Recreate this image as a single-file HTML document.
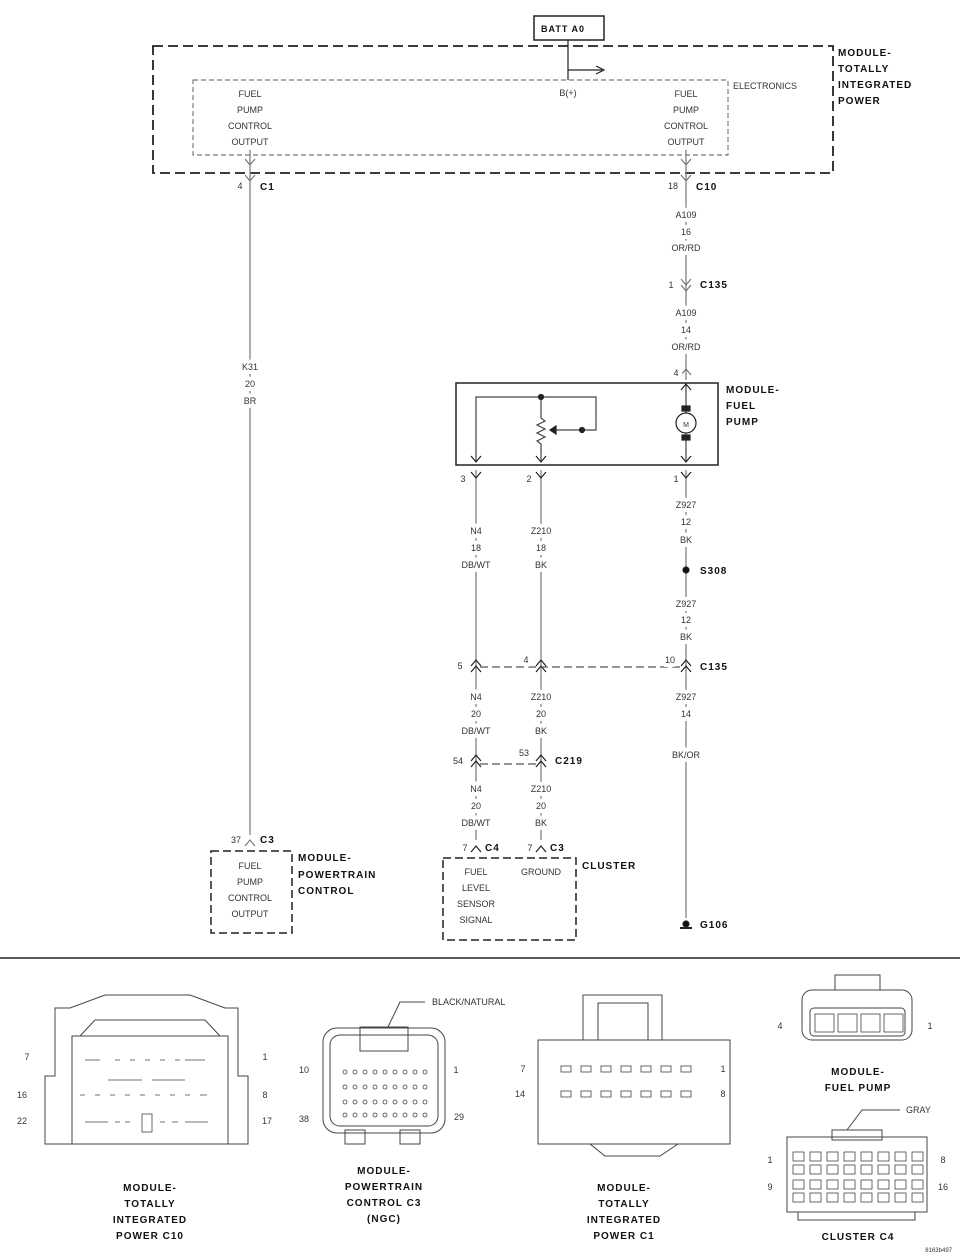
<!DOCTYPE html>
<html><head><meta charset="utf-8"><style>
body{margin:0;background:#fff}
svg{display:block}
text{font-family:"Liberation Sans",sans-serif;font-size:9px;fill:#333}
.b{font-weight:bold;font-size:10px;fill:#111;letter-spacing:1px}
.m{text-anchor:middle;paint-order:stroke;stroke:#fff;stroke-width:8px;stroke-linejoin:round}
</style></head><body>
<svg width="960" height="1257" viewBox="0 0 960 1257" xmlns="http://www.w3.org/2000/svg">
<g stroke="#222" fill="none" stroke-width="1.2">
<rect x="534" y="16" width="70" height="24" stroke-width="1.5"/>
<rect x="153" y="46" width="680" height="127" stroke-dasharray="10,5" stroke-width="1.8"/>
<rect x="193" y="80" width="535" height="75" stroke-dasharray="5,3" stroke="#555" stroke-width="0.9"/>
<path d="M568 40 V80 M568 70 H602 M596 66 L604 70 L596 74"/>
<path d="M250 150 V835 M245 159 L250 165 L255 159 M245 175 L250 181 L255 175 M245 846 L250 840 L255 846" stroke="#777"/>
<path d="M686 150 V380 M681 159 L686 165 L691 159 M681 175 L686 181 L691 175 M681 279 L686 285 L691 279 M681 285 L686 291 L691 285 M681 375 L686 369 L691 375" stroke="#777"/>
<rect x="456" y="383" width="262" height="82" stroke-width="1.5"/>
<path d="M476 462 V397 H596 V430 H550 M541 397 V418 l4 3 -8 4 8 4 -8 4 8 4 -8 4 4 3 V462 M686 383 V462" stroke="#444"/>
<path d="M550 426 L556 430 L550 434 Z" fill="#222" transform="rotate(180 553 430)"/>
<circle cx="541" cy="397" r="2.5" fill="#222"/><circle cx="582" cy="430" r="2.5" fill="#222"/>
<circle cx="686" cy="423" r="10" fill="#fff"/>
<rect x="682" y="406" width="8" height="5" fill="#222"/><rect x="682" y="435" width="8" height="5" fill="#222"/>
<path d="M471 456 L476 462 L481 456 M536 456 L541 462 L546 456 M681 456 L686 462 L691 456 M681 390 L686 384 L691 390"/>
<path d="M476 470 V840 M541 470 V840 M686 470 V918" stroke="#777"/>
<path d="M471 472 L476 478 L481 472 M536 472 L541 478 L546 472 M681 472 L686 478 L691 472"/>
<path d="M471 666 L476 660 L481 666 M471 672 L476 666 L481 672 M536 666 L541 660 L546 666 M536 672 L541 666 L546 672 M681 666 L686 660 L691 666 M681 672 L686 666 L691 672"/>
<path d="M480 667 H682" stroke-dasharray="8,4" stroke="#555"/>
<path d="M471 761 L476 755 L481 761 M471 767 L476 761 L481 767 M536 761 L541 755 L546 761 M536 767 L541 761 L546 767"/>
<path d="M480 764 H537" stroke-dasharray="8,4" stroke="#555"/>
<path d="M471 852 L476 846 L481 852 M536 852 L541 846 L546 852"/>
<circle cx="686" cy="570" r="3" fill="#111"/>
<path d="M680 928 H692" stroke-width="2"/><circle cx="686" cy="924" r="3" fill="#111"/>
<rect x="211" y="851" width="81" height="82" stroke-dasharray="8,4" stroke-width="1.5"/>
<rect x="443" y="858" width="133" height="82" stroke-dasharray="8,4" stroke-width="1.5"/>
<path d="M0 958 H960" stroke-width="1.5"/>
</g>
<text x="541" y="32" class="b" style="font-size:9px">BATT A0</text>
<text x="838" y="56" class="b">MODULE-</text><text x="838" y="72" class="b">TOTALLY</text><text x="838" y="88" class="b">INTEGRATED</text><text x="838" y="104" class="b">POWER</text>
<text x="733" y="89">ELECTRONICS</text>
<text x="568" y="96" class="m">B(+)</text>
<text x="250" y="97" class="m">FUEL</text><text x="250" y="113" class="m">PUMP</text><text x="250" y="129" class="m">CONTROL</text><text x="250" y="145" class="m">OUTPUT</text>
<text x="686" y="97" class="m">FUEL</text><text x="686" y="113" class="m">PUMP</text><text x="686" y="129" class="m">CONTROL</text><text x="686" y="145" class="m">OUTPUT</text>
<text x="240" y="189" class="m">4</text><text x="260" y="190" class="b">C1</text>
<text x="673" y="189" class="m">18</text><text x="696" y="190" class="b">C10</text>
<text x="686" y="218" class="m">A109</text><text x="686" y="235" class="m">16</text><text x="686" y="251" class="m">OR/RD</text>
<text x="671" y="288" class="m">1</text><text x="700" y="288" class="b">C135</text>
<text x="686" y="316" class="m">A109</text><text x="686" y="333" class="m">14</text><text x="686" y="350" class="m">OR/RD</text>
<text x="676" y="376" class="m">4</text>
<text x="726" y="393" class="b">MODULE-</text><text x="726" y="409" class="b">FUEL</text><text x="726" y="425" class="b">PUMP</text>
<text x="686" y="427" style="font-size:7px;text-anchor:middle">M</text>
<text x="250" y="370" class="m">K31</text><text x="250" y="387" class="m">20</text><text x="250" y="404" class="m">BR</text>
<text x="463" y="482" class="m">3</text><text x="529" y="482" class="m">2</text><text x="676" y="482" class="m">1</text>
<text x="686" y="508" class="m">Z927</text><text x="686" y="525" class="m">12</text><text x="686" y="543" class="m">BK</text>
<text x="476" y="534" class="m">N4</text><text x="476" y="551" class="m">18</text><text x="476" y="568" class="m">DB/WT</text>
<text x="541" y="534" class="m">Z210</text><text x="541" y="551" class="m">18</text><text x="541" y="568" class="m">BK</text>
<text x="700" y="574" class="b">S308</text>
<text x="686" y="607" class="m">Z927</text><text x="686" y="623" class="m">12</text><text x="686" y="640" class="m">BK</text>
<text x="460" y="669" class="m">5</text><text x="526" y="663" class="m">4</text><text x="670" y="663" class="m">10</text><text x="700" y="670" class="b">C135</text>
<text x="476" y="700" class="m">N4</text><text x="476" y="717" class="m">20</text><text x="476" y="734" class="m">DB/WT</text>
<text x="541" y="700" class="m">Z210</text><text x="541" y="717" class="m">20</text><text x="541" y="734" class="m">BK</text>
<text x="686" y="700" class="m">Z927</text><text x="686" y="717" class="m">14</text><text x="686" y="758" class="m">BK/OR</text>
<text x="458" y="764" class="m">54</text><text x="524" y="756" class="m">53</text><text x="555" y="764" class="b">C219</text>
<text x="476" y="792" class="m">N4</text><text x="476" y="809" class="m">20</text><text x="476" y="826" class="m">DB/WT</text>
<text x="541" y="792" class="m">Z210</text><text x="541" y="809" class="m">20</text><text x="541" y="826" class="m">BK</text>
<text x="236" y="843" class="m">37</text><text x="260" y="843" class="b">C3</text>
<text x="465" y="851" class="m">7</text><text x="485" y="851" class="b">C4</text>
<text x="530" y="851" class="m">7</text><text x="550" y="851" class="b">C3</text>
<text x="250" y="869" class="m">FUEL</text><text x="250" y="885" class="m">PUMP</text><text x="250" y="901" class="m">CONTROL</text><text x="250" y="917" class="m">OUTPUT</text>
<text x="298" y="861" class="b">MODULE-</text><text x="298" y="878" class="b">POWERTRAIN</text><text x="298" y="894" class="b">CONTROL</text>
<text x="476" y="875" class="m">FUEL</text><text x="476" y="891" class="m">LEVEL</text><text x="476" y="907" class="m">SENSOR</text><text x="476" y="923" class="m">SIGNAL</text>
<text x="541" y="875" class="m">GROUND</text>
<text x="582" y="869" class="b">CLUSTER</text>
<text x="700" y="928" class="b">G106</text>

<g stroke="#444" fill="none" stroke-width="1">
<path d="M45 1144 V1076 H55 V1008 H70 L105 995 H190 L225 1008 H238 V1076 H248 V1144 Z"/>
<path d="M72 1144 V1036 H228 V1144 M80 1036 L95 1020 H205 L220 1036"/>
<g stroke-width="0.8"><path d="M85 1060 H100 M115 1060 H120 M130 1060 H135 M145 1060 H150 M160 1060 H165 M175 1060 H180 M185 1060 H205 M108 1080 H142 M152 1080 H185 M80 1095 H85 M95 1095 H100 M110 1095 H115 M125 1095 H130 M140 1095 H145 M155 1095 H160 M170 1095 H175 M185 1095 H190 M200 1095 H207 M85 1122 H108 M115 1122 H120 M125 1122 H130 M160 1122 H165 M172 1122 H178 M185 1122 H208"/><rect x="142" y="1114" width="10" height="18"/></g>
<rect x="323" y="1028" width="122" height="105" rx="14"/>
<rect x="330" y="1035" width="108" height="91" rx="10"/>
<rect x="360" y="1027" width="48" height="24"/>
<rect x="345" y="1130" width="20" height="14"/><rect x="400" y="1130" width="20" height="14"/>
<path d="M388 1027 L400 1002 H425"/>
<g stroke-width="0.8"><g id="r1"><circle cx="345" cy="1072" r="2"/><circle cx="355" cy="1072" r="2"/><circle cx="365" cy="1072" r="2"/><circle cx="375" cy="1072" r="2"/><circle cx="385" cy="1072" r="2"/><circle cx="395" cy="1072" r="2"/><circle cx="405" cy="1072" r="2"/><circle cx="415" cy="1072" r="2"/><circle cx="425" cy="1072" r="2"/></g>
<use href="#r1" y="15"/><use href="#r1" y="30"/><use href="#r1" y="43"/></g>
<rect x="538" y="1040" width="192" height="104"/>
<path d="M583 1040 V995 H662 V1040 M598 1040 V1003 H648 V1040"/>
<path d="M570 1144 H700 M590 1144 L605 1156 H660 L678 1144"/>
<g stroke-width="0.8"><g id="c1"><rect x="561" y="1066" width="10" height="6"/><rect x="581" y="1066" width="10" height="6"/><rect x="601" y="1066" width="10" height="6"/><rect x="621" y="1066" width="10" height="6"/><rect x="641" y="1066" width="10" height="6"/><rect x="661" y="1066" width="10" height="6"/><rect x="681" y="1066" width="10" height="6"/></g><use href="#c1" y="25"/></g>
<rect x="802" y="990" width="110" height="50" rx="10"/>
<rect x="810" y="1008" width="95" height="28" rx="4"/>
<rect x="835" y="975" width="45" height="15"/>
<g stroke-width="0.8"><rect x="815" y="1014" width="19" height="18"/><rect x="838" y="1014" width="19" height="18"/><rect x="861" y="1014" width="19" height="18"/><rect x="884" y="1014" width="19" height="18"/></g>
<rect x="787" y="1137" width="140" height="75"/>
<rect x="832" y="1130" width="50" height="10"/>
<path d="M798 1212 V1220 H915 V1212 M847 1130 L862 1110 H900"/>
<g stroke-width="0.8"><g id="k"><rect x="793" y="1152" width="11" height="9"/><rect x="810" y="1152" width="11" height="9"/><rect x="827" y="1152" width="11" height="9"/><rect x="844" y="1152" width="11" height="9"/><rect x="861" y="1152" width="11" height="9"/><rect x="878" y="1152" width="11" height="9"/><rect x="895" y="1152" width="11" height="9"/><rect x="912" y="1152" width="11" height="9"/></g>
<use href="#k" y="13"/><use href="#k" y="28"/><use href="#k" y="41"/></g>
</g>
<text x="27" y="1060" text-anchor="middle">7</text><text x="265" y="1060" text-anchor="middle">1</text>
<text x="22" y="1098" text-anchor="middle">16</text><text x="265" y="1098" text-anchor="middle">8</text>
<text x="22" y="1124" text-anchor="middle">22</text><text x="267" y="1124" text-anchor="middle">17</text>
<text x="150" y="1191" class="b" text-anchor="middle">MODULE-</text><text x="150" y="1207" class="b" text-anchor="middle">TOTALLY</text><text x="150" y="1223" class="b" text-anchor="middle">INTEGRATED</text><text x="150" y="1239" class="b" text-anchor="middle">POWER C10</text>
<text x="432" y="1005">BLACK/NATURAL</text>
<text x="304" y="1073" text-anchor="middle">10</text><text x="456" y="1073" text-anchor="middle">1</text>
<text x="304" y="1122" text-anchor="middle">38</text><text x="459" y="1120" text-anchor="middle">29</text>
<text x="384" y="1174" class="b" text-anchor="middle">MODULE-</text><text x="384" y="1190" class="b" text-anchor="middle">POWERTRAIN</text><text x="384" y="1206" class="b" text-anchor="middle">CONTROL C3</text><text x="384" y="1222" class="b" text-anchor="middle">(NGC)</text>
<text x="523" y="1072" text-anchor="middle">7</text><text x="723" y="1072" text-anchor="middle">1</text>
<text x="520" y="1097" text-anchor="middle">14</text><text x="723" y="1097" text-anchor="middle">8</text>
<text x="624" y="1191" class="b" text-anchor="middle">MODULE-</text><text x="624" y="1207" class="b" text-anchor="middle">TOTALLY</text><text x="624" y="1223" class="b" text-anchor="middle">INTEGRATED</text><text x="624" y="1239" class="b" text-anchor="middle">POWER C1</text>
<text x="780" y="1029" text-anchor="middle">4</text><text x="930" y="1029" text-anchor="middle">1</text>
<text x="858" y="1075" class="b" text-anchor="middle">MODULE-</text><text x="858" y="1091" class="b" text-anchor="middle">FUEL PUMP</text>
<text x="906" y="1113">GRAY</text>
<text x="770" y="1163" text-anchor="middle">1</text><text x="943" y="1163" text-anchor="middle">8</text>
<text x="770" y="1190" text-anchor="middle">9</text><text x="943" y="1190" text-anchor="middle">16</text>
<text x="858" y="1240" class="b" text-anchor="middle">CLUSTER C4</text>
<text x="952" y="1252" style="font-size:6px;text-anchor:end">8163b497</text>
</svg>
</body></html>
